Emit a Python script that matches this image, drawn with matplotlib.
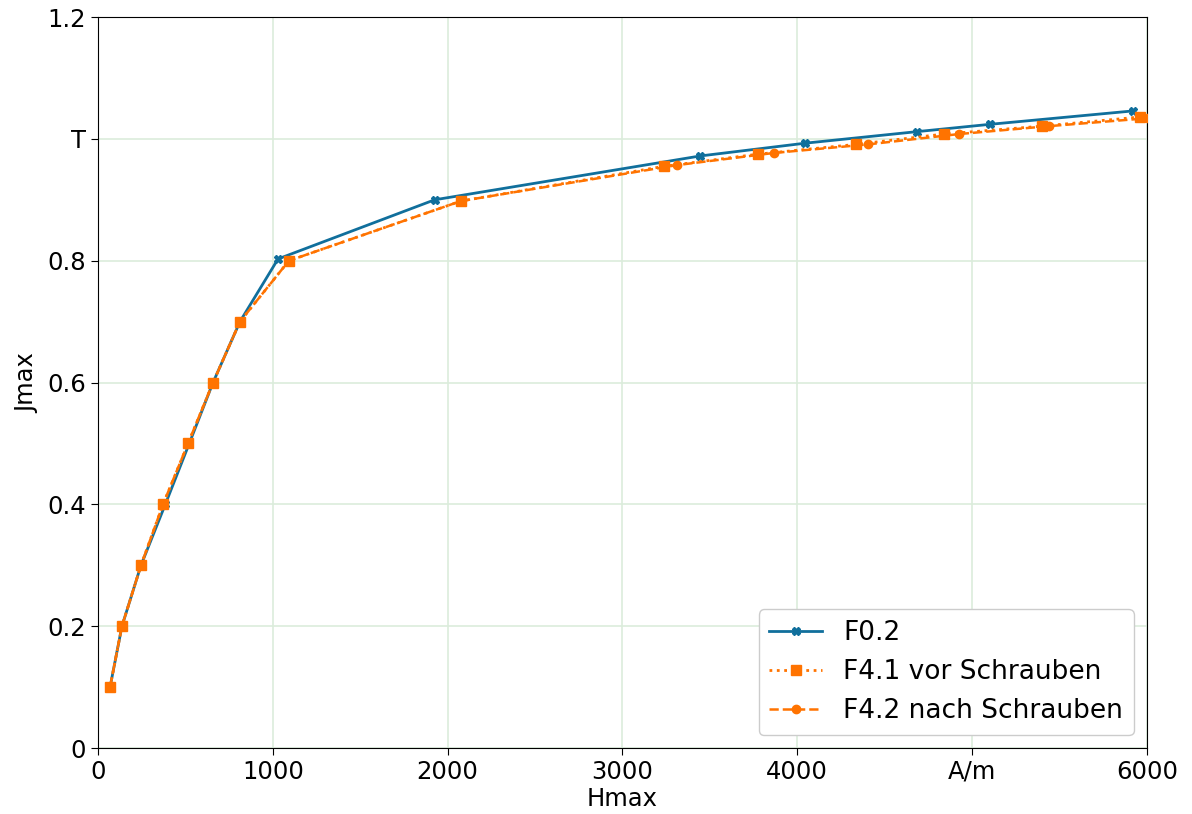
import matplotlib.pyplot as plt

# Hmax [A/m] and Jmax [T] for the three measurement series
h_f02 = [69, 137, 246, 385, 522, 658, 812, 1030, 1925, 3444, 4045, 4686, 5103, 5921]
j_f02 = [0.1, 0.2, 0.3, 0.4, 0.5, 0.6, 0.7, 0.803, 0.9, 0.972, 0.993, 1.012, 1.024, 1.046]

h_f41 = [69, 137, 246, 372, 515, 658, 812, 1092, 2076, 3237, 3775, 4335, 4839, 5400, 5960]
j_f41 = [0.1, 0.2, 0.3, 0.4, 0.5, 0.6, 0.7, 0.8, 0.898, 0.955, 0.975, 0.991, 1.008, 1.021, 1.036]

h_f42 = [69, 137, 246, 372, 515, 658, 812, 1092, 2076, 3312, 3867, 4404, 4925, 5440, 6005]
j_f42 = [0.1, 0.2, 0.3, 0.4, 0.5, 0.6, 0.7, 0.8, 0.898, 0.957, 0.977, 0.991, 1.008, 1.021, 1.034]

x_ticks = [0, 1000, 2000, 3000, 4000, 5000, 6000]
x_labels = ['0', '1000', '2000', '3000', '4000', 'A/m', '6000']
y_ticks = [0, 0.2, 0.4, 0.6, 0.8, 1.0, 1.2]
y_labels = ['0', '0.2', '0.4', '0.6', '0.8', 'T', '1.2']

blue = '#106f9c'
orange = '#ff7300'

fig = plt.figure(figsize=(11.92, 8.14), dpi=100)
ax = fig.add_axes([0.0822, 0.081, 0.880, 0.898])

ax.plot(h_f02, j_f02, color=blue, linestyle='-', linewidth=2,
        marker='X', markersize=6, label='F0.2', zorder=3)
ax.plot(h_f41, j_f41, color=orange, linestyle=':', linewidth=2,
        marker='s', markersize=7, label='F4.1 vor Schrauben', zorder=4)
ax.plot(h_f42, j_f42, color=orange, linestyle='--', linewidth=1.8,
        marker='o', markersize=6, label='F4.2 nach Schrauben', zorder=4)

ax.set_xlim(0, 6000)
ax.set_ylim(0, 1.2)
ax.set_xticks(x_ticks)
ax.set_xticklabels(x_labels)
ax.set_yticks(y_ticks)
ax.set_yticklabels(y_labels)
ax.tick_params(labelsize=17.5, length=5)

ax.grid(True, color='#dcecdc', linewidth=1.2)
ax.set_axisbelow(True)

ax.set_xlabel('Hmax', fontsize=17.5, labelpad=2)
ax.set_ylabel('Jmax', fontsize=17.5, labelpad=6)

ax.legend(loc='lower right', fontsize=19, framealpha=1, handlelength=2.0)

fig.savefig('out.png', dpi=100)
